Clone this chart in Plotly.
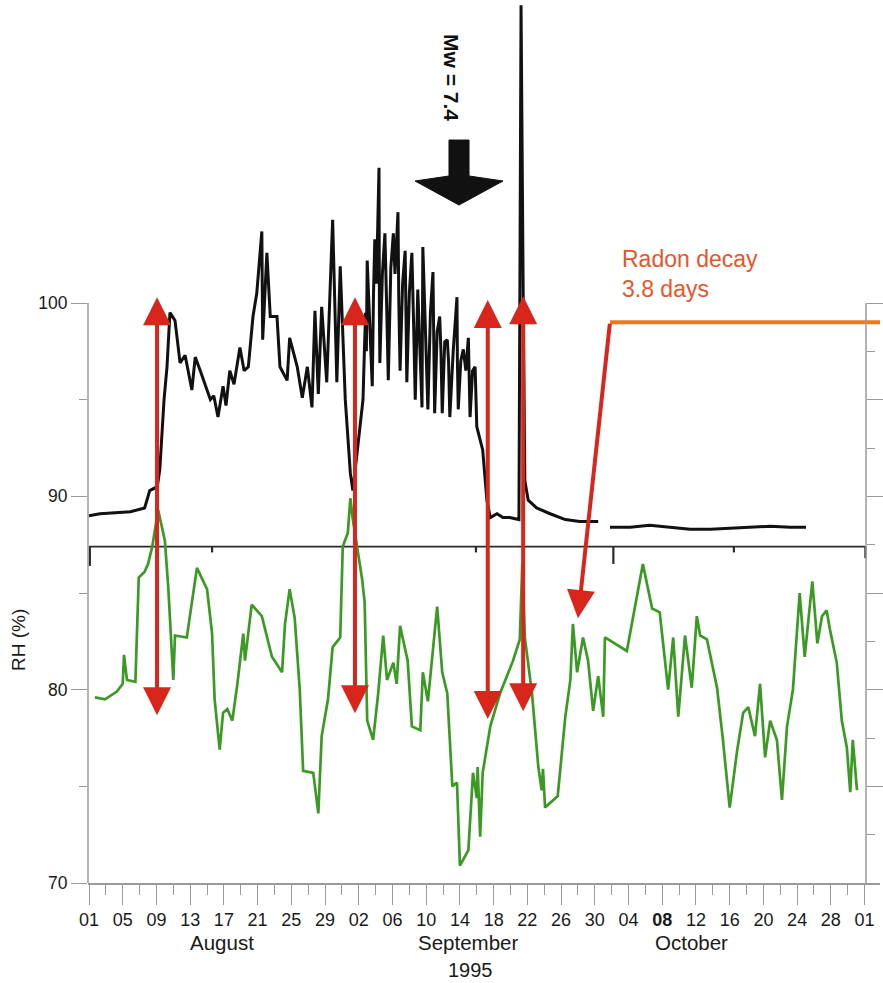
import plotly.graph_objects as go
import pandas as pd

BASE = pd.Timestamp("1995-08-01")

# ---- upper (black) record: day offset from 1 Aug 1995, value on RH scale ----
black_days = [0.0, 1.3, 3.1, 4.9, 6.6, 7.2, 8.1, 8.4, 8.9, 9.25, 9.6, 10.2, 10.8, 11.4,
              12.2, 12.6, 13.2, 13.8, 14.4, 14.8, 15.3, 15.9, 16.25, 16.7, 17.2, 17.9,
              18.4, 18.9, 19.45, 19.9, 20.5, 20.6, 21.1, 21.5, 22.3, 22.65, 23.5, 23.8,
              24.7, 25.3, 25.9, 26.45, 26.8, 27.2, 27.6, 28.2, 28.9, 29.4, 29.8, 30.4,
              31.0, 31.3, 31.8,
              32.5, 32.8, 32.9, 33.0, 33.3, 33.6, 33.75, 33.9, 34.1, 34.4, 34.45, 34.5,
              34.8, 35.1, 35.3, 35.5, 35.8, 36.1, 36.3, 36.65, 36.75, 36.9, 37.2, 37.5,
              37.6, 37.7, 38.0, 38.3, 38.5, 38.7, 39.0, 39.2, 39.5, 39.6, 39.9, 40.2,
              40.5, 40.8, 40.9, 41.0, 41.3, 41.6, 41.75, 41.9, 42.2, 42.5, 42.65, 42.8,
              43.2, 43.65, 43.7, 43.8, 44.1, 44.4, 44.7, 45.0, 45.2, 45.5, 45.8, 46.0,
              46.7, 47.2, 47.6, 48.4, 49.1, 49.9, 51.0, 51.25, 51.5, 51.7, 52.1, 53.1, 54.7,
              56.5, 58.2, 60.4, None, 61.8, 64.2, 66.5, 68.9, 71.3, 73.7, 76.0, 78.4,
              80.8, 83.2, 85.05]
black_vals = [89.0, 89.1, 89.15, 89.2, 89.4, 90.3, 90.5, 91.4, 95.0, 96.7, 99.5, 99.1, 96.9, 97.3,
              95.5, 97.2, 96.5, 95.8, 95.0, 95.2, 94.1, 95.7, 94.7, 96.5, 95.8, 97.7,
              96.5, 96.7, 99.3, 100.5, 103.7, 98.1, 102.6, 99.3, 99.3, 96.7, 96.0, 98.2,
              96.7, 95.1, 96.7, 94.6, 99.6, 95.3, 99.8, 95.9, 104.3, 95.9, 101.9, 95.0,
              91.2, 90.3, 92.4,
              95.0, 99.5, 97.5, 102.2, 99.0, 95.7, 100.5, 103.3, 101.0, 107.0, 99.5, 96.9,
              101.5, 103.6, 100.0, 96.0, 101.8, 103.6, 101.5, 104.7, 100.0, 96.5, 101.0, 102.7,
              99.5, 95.9, 100.5, 102.6, 99.0, 95.0, 100.7, 98.5, 94.6, 102.9, 99.0, 94.5,
              99.5, 101.6, 98.0, 94.3, 98.5, 99.3, 97.5, 94.3, 98.0, 98.1, 97.0, 94.1,
              97.5, 100.3, 97.0, 94.5, 97.0, 97.6, 96.5, 98.2, 94.1, 96.5, 96.7, 93.6,
              92.4, 89.8, 88.9, 89.1, 88.9, 88.9, 88.8, 115.4, 100.7, 90.8, 89.8, 89.4, 89.1,
              88.8, 88.7, 88.7, None, 88.4, 88.4, 88.5, 88.4, 88.3, 88.3, 88.35, 88.4,
              88.45, 88.4, 88.4]

# ---- lower (green) RH record ----
green_days = [0.7, 1.9, 3.3, 4.0, 4.15, 4.5, 5.5, 5.9, 6.6, 7.0, 7.5, 8.2, 9.0, 9.4, 10.0,
              10.2, 11.6, 12.8, 14.0, 14.6, 14.9, 15.5, 15.9, 16.4, 17.0, 17.6, 18.3, 18.5,
              19.3, 20.5, 21.7, 22.9, 23.25, 23.8, 24.4, 25.0, 25.4, 26.6, 27.2, 27.6, 28.35,
              28.9, 29.8, 30.1, 30.7, 31.0, 31.3, 32.4, 32.7, 33.0, 33.7, 34.3, 34.9, 35.35,
              36.1, 36.5, 36.9, 37.8, 38.3, 39.3, 39.6, 40.2, 41.3, 41.9, 42.5, 43.1, 43.65,
              44.0, 45.0, 45.55, 46.0, 46.1, 46.4, 46.7, 47.6, 48.75, 50.3, 51.1, 51.4, 51.7,
              52.55, 53.3, 53.7, 53.85, 54.1, 55.6, 56.5, 57.1, 57.4, 57.9, 58.6, 59.2, 59.8,
              60.4, 61.0, 61.2, 63.8, 65.7, 66.8, 67.7, 68.7, 69.3, 69.9, 70.7, 71.5, 72.1,
              72.5, 73.3, 74.5, 75.2, 76.0, 76.9, 77.6, 78.2, 79.0, 79.6, 80.2, 80.8, 81.6,
              82.2, 82.8, 83.5, 84.3, 84.9, 85.8, 86.4, 86.95, 87.5, 87.9, 88.7, 89.3, 89.9,
              90.3, 90.6, 91.1]
green_vals = [79.6, 79.5, 79.9, 80.3, 81.8, 80.5, 80.4, 85.8, 86.1, 86.5, 87.4, 89.3, 87.7, 85.3, 80.5,
              82.8, 82.7, 86.3, 85.2, 82.9, 79.5, 76.9, 78.8, 79.0, 78.4, 80.3, 82.9, 81.5,
              84.4, 83.8, 81.7, 80.9, 83.4, 85.2, 83.7, 80.0, 75.8, 75.7, 73.6, 77.6, 79.5,
              82.2, 82.7, 87.4, 88.1, 89.9, 88.8, 85.7, 84.5, 78.4, 77.4, 79.8, 82.8, 80.5,
              81.4, 80.3, 83.3, 81.5, 78.1, 77.9, 80.9, 79.4, 84.3, 80.9, 79.8, 75.0, 75.2,
              70.9, 71.7, 75.7, 74.4, 76.0, 72.4, 75.7, 78.1, 79.8, 81.5, 82.6, 86.5, 82.7,
              79.8, 76.0, 74.8, 75.9, 73.9, 74.5, 78.6, 80.5, 83.4, 80.9, 82.7, 81.5, 78.9,
              80.7, 78.6, 82.7, 82.0, 86.5, 84.2, 84.0, 80.0, 82.7, 78.6, 82.8, 80.1, 83.8,
              82.8, 82.6, 80.1, 77.4, 73.9, 76.9, 78.8, 79.1, 77.6, 80.3, 76.5, 78.4, 77.4,
              74.3, 78.1, 80.0, 85.0, 81.7, 85.6, 82.4, 83.8, 84.1, 83.1, 81.4, 78.4, 77.0,
              74.7, 77.4, 74.8]

# baseline of the upper panel and its small hooks
panel_base_level = 87.4
panel_base_days = [0.0, 92.1]
panel_tick_days = [0.1, 14.6, 45.9, 62.2, 76.5, 92.1]
panel_tick_depth = [1.0, 0.3, 0.3, 0.9, 0.3, 0.6]

# radon decay level line
decay_days = [61.8, 93.9]
decay_vals = [99.0, 99.0]

# red double arrows (day, top value, bottom value)
arrow_days = [8.07, 31.55, 47.3, 51.5]
arrow_top = [100.3, 100.3, 100.15, 100.35]
arrow_bottom = [78.6, 78.7, 78.4, 78.8]
# single decay arrow (from -> to)
decay_arrow_from = (61.8, 99.0)
decay_arrow_to = (58.0, 83.7)

# x axis ticks
tick_days = [0, 4, 8, 12, 16, 20, 24, 28, 32, 36, 40, 44, 48, 52, 56, 60, 64, 68, 72, 76, 80, 84, 88, 92]
tick_text = ["01", "05", "09", "13", "17", "21", "25", "29", "02", "06", "10", "14", "18", "22",
             "26", "30", "04", "<b>08</b>", "12", "16", "20", "24", "28", "01"]
minor_tick_days = [2, 6, 10, 14, 18, 22, 26, 30, 34, 38, 42, 46, 50, 54, 58, 62, 66, 70, 74, 78, 82, 86, 90]
month_names = ["August", "September", "October"]
month_days = [15.8, 45.0, 71.5]
year_label = "1995"
year_day = 45.2

y_ticks = [70, 80, 90, 100]
y_minor = [75, 85, 95]
r_ticks = [75, 80, 85, 90, 95, 100]
r_minor = [72.5, 77.5, 82.5, 87.5, 92.5, 97.5]


def to_dt(days):
    out = []
    for d in days:
        if d is None:
            out.append(None)
        else:
            out.append((BASE + pd.Timedelta(days=d)).strftime("%Y-%m-%d %H:%M:%S"))
    return out


W, H = 883, 983
ML, MR, MT, MB = 88, 3, 0, 100
PW, PH = W - ML - MR, H - MT - MB
FONT = "Liberation Sans, Arial, sans-serif"
AXC = "#9a9a9a"
RED = "#d8261c"
TXT = "#1a1a1a"


def px_x(px):
    return (px - ML) / PW


def px_y(py):
    return (H - MB - py) / PH


fig = go.Figure()

# panel baseline and hooks
hx, hy = [], []
for d, dep in zip(panel_tick_days, panel_tick_depth):
    hx += [d, d, None]
    hy += [panel_base_level, panel_base_level - dep, None]
fig.add_trace(go.Scatter(x=to_dt(panel_base_days), y=[panel_base_level] * 2, mode="lines",
                         line=dict(color="#2a2a2a", width=1.6), hoverinfo="skip", showlegend=False))
fig.add_trace(go.Scatter(x=to_dt(hx), y=hy, mode="lines", connectgaps=False,
                         line=dict(color="#2a2a2a", width=2.2), hoverinfo="skip", showlegend=False))

fig.add_trace(go.Scatter(x=to_dt(black_days), y=black_vals, mode="lines", connectgaps=False,
                         line=dict(color="#111111", width=3), hoverinfo="skip", showlegend=False))
fig.add_trace(go.Scatter(x=to_dt(green_days), y=green_vals, mode="lines",
                         line=dict(color="#3a9a24", width=2.7), hoverinfo="skip", showlegend=False))
fig.add_trace(go.Scatter(x=to_dt(decay_days), y=decay_vals, mode="lines",
                         line=dict(color="#f07818", width=4), hoverinfo="skip", showlegend=False))
fig.add_trace(go.Scatter(x=[], y=[], yaxis="y2", showlegend=False, hoverinfo="skip"))

annotations = []
for d, t, b in zip(arrow_days, arrow_top, arrow_bottom):
    xd = to_dt([d])[0]
    annotations.append(dict(x=xd, y=t, ax=xd, ay=b, xref="x", yref="y", axref="x", ayref="y",
                            text="", showarrow=True, arrowside="end+start", arrowhead=2,
                            startarrowhead=2, arrowsize=1.4, startarrowsize=1.4,
                            arrowwidth=4, arrowcolor=RED))
annotations.append(dict(x=to_dt([decay_arrow_to[0]])[0], y=decay_arrow_to[1],
                        ax=to_dt([decay_arrow_from[0]])[0], ay=decay_arrow_from[1],
                        xref="x", yref="y", axref="x", ayref="y", text="", showarrow=True,
                        arrowhead=2, arrowsize=1.4, arrowwidth=4, arrowcolor=RED))

for name, d in zip(month_names, month_days):
    annotations.append(dict(x=to_dt([d])[0], y=0, xref="x", yref="paper", yshift=-59,
                            yanchor="middle", xanchor="center",
                            text=name, showarrow=False, font=dict(size=20.5, color=TXT, family=FONT)))
annotations.append(dict(x=to_dt([year_day])[0], y=0, xref="x", yref="paper", yshift=-87,
                        yanchor="middle", xanchor="center",
                        text=year_label, showarrow=False, font=dict(size=20, color=TXT, family=FONT)))
annotations.append(dict(x=px_x(18), y=px_y(640), xref="paper", yref="paper", text="RH (%)",
                        xanchor="center", yanchor="middle",
                        textangle=-90, showarrow=False, font=dict(size=19, color=TXT, family=FONT)))
annotations.append(dict(x=px_x(452), y=px_y(77), xref="paper", yref="paper", text="<b>Mw = 7.4</b>",
                        xanchor="center", yanchor="middle",
                        textangle=90, showarrow=False, font=dict(size=21, color="#111111", family=FONT)))
annotations.append(dict(x=px_x(620), y=px_y(274), xref="paper", yref="paper", xanchor="left",
                        yanchor="middle",
                        align="left", text="Radon decay<br>3.8 days", showarrow=False,
                        font=dict(size=23, color="#e8552b", family=FONT)))

# black earthquake arrow glyph (pixel outline)
glyph = [(449, 140), (469, 140), (469, 176), (503, 181), (459, 205), (415, 181), (449, 176)]
path = "M " + " L ".join(f"{px_x(a):.4f},{px_y(b):.4f}" for a, b in glyph) + " Z"
shapes = [
    dict(type="path", path=path, xref="paper", yref="paper", fillcolor="#111111",
         line=dict(color="#111111", width=1)),
    dict(type="line", xref="paper", yref="y", x0=0, x1=0, y0=70, y1=100,
         line=dict(color=AXC, width=1.5)),
    dict(type="line", xref="paper", yref="y", x0=px_x(866), x1=px_x(866), y0=70, y1=100,
         line=dict(color=AXC, width=1.5)),
]

y_top = 70 + PH / 19.333

fig.update_layout(
    width=W, height=H, margin=dict(l=ML, r=MR, t=MT, b=MB),
    paper_bgcolor="white", plot_bgcolor="white",
    font=dict(family=FONT, size=17, color=TXT),
    showlegend=False,
    xaxis=dict(type="date", range=to_dt([-0.12, 93.83]), tickvals=to_dt(tick_days), ticktext=tick_text,
               ticks="outside", ticklen=20, tickcolor=AXC, tickwidth=1.3,
               minor=dict(tickvals=to_dt(minor_tick_days), ticks="outside", ticklen=10,
                          tickcolor=AXC, tickwidth=1.3),
               showline=True, linecolor=AXC, linewidth=1.5, showgrid=False, zeroline=False,
               tickfont=dict(size=18, color=TXT, family=FONT)),
    yaxis=dict(range=[70, y_top], tickvals=y_ticks, ticktext=[str(v) for v in y_ticks],
               ticks="outside", ticklen=16, tickcolor=AXC, tickwidth=1.3,
               minor=dict(tickvals=y_minor, ticks="outside", ticklen=8, tickcolor=AXC, tickwidth=1.3),
               showline=False, showgrid=False, zeroline=False,
               tickfont=dict(size=17.5, color=TXT, family=FONT)),
    yaxis2=dict(range=[70, y_top], overlaying="y", anchor="free", position=px_x(866), side="right",
                tickvals=r_ticks, showticklabels=False, ticks="outside", ticklen=16,
                tickcolor=AXC, tickwidth=1.3,
                minor=dict(tickvals=r_minor, ticks="outside", ticklen=8, tickcolor=AXC, tickwidth=1.3),
                showline=False, showgrid=False, zeroline=False),
    annotations=annotations,
    shapes=shapes,
)

fig.write_html("out.html", config={"displayModeBar": False})
